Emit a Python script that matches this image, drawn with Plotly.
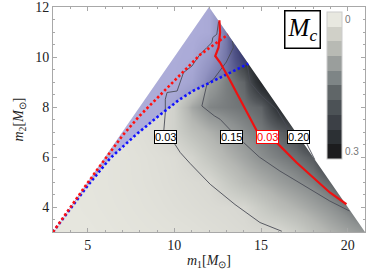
import plotly.graph_objects as go

# ---------------- data ----------------
m1_grid = [3, 4, 5, 6, 7, 8, 9, 10, 11, 12, 13, 14, 15, 16, 17, 18, 19, 20, 21]
m2_grid = [3, 4, 5, 6, 7, 8, 9, 10, 11, 12]
z_rows = [
    [0.0, 0.0, 0.0, 0.002, 0.004, 0.006, 0.008, 0.01, 0.013, 0.017, 0.021, 0.025, 0.028, 0.029, 0.05, 0.08, 0.105, 0.125, 0.14],
    [0.0, 0.0, 0.002, 0.004, 0.006, 0.009, 0.012, 0.016, 0.02, 0.024, 0.027, 0.033, 0.06, 0.085, 0.105, 0.125, 0.145, 0.17, 0.2],
    [0.002, 0.002, 0.003, 0.005, 0.008, 0.011, 0.015, 0.02, 0.025, 0.03, 0.06, 0.09, 0.11, 0.13, 0.148, 0.165, 0.19, 0.23, 0.27],
    [0.004, 0.004, 0.004, 0.005, 0.008, 0.012, 0.017, 0.022, 0.04, 0.07, 0.1, 0.125, 0.15, 0.165, 0.18, 0.2, 0.25, 0.28, 0.3],
    [0.008, 0.008, 0.008, 0.008, 0.01, 0.016, 0.024, 0.045, 0.08, 0.105, 0.13, 0.152, 0.17, 0.19, 0.215, 0.27, 0.3, 0.3, 0.3],
    [0.015, 0.015, 0.015, 0.015, 0.015, 0.02, 0.022, 0.045, 0.12, 0.16, 0.168, 0.177, 0.19, 0.26, 0.3, 0.3, 0.3, 0.3, 0.3],
    [0.02, 0.02, 0.02, 0.02, 0.02, 0.02, 0.022, 0.022, 0.05, 0.13, 0.165, 0.19, 0.28, 0.3, 0.3, 0.3, 0.3, 0.3, 0.3],
    [0.02, 0.02, 0.02, 0.02, 0.02, 0.02, 0.02, 0.02, 0.027, 0.08, 0.155, 0.25, 0.3, 0.3, 0.3, 0.3, 0.3, 0.3, 0.3],
    [0.02, 0.02, 0.02, 0.02, 0.02, 0.02, 0.02, 0.02, 0.02, 0.03, 0.15, 0.3, 0.3, 0.3, 0.3, 0.3, 0.3, 0.3, 0.3],
    [0.02, 0.02, 0.02, 0.02, 0.02, 0.02, 0.02, 0.02, 0.02, 0.03, 0.15, 0.3, 0.3, 0.3, 0.3, 0.3, 0.3, 0.3, 0.3],
]

# domain corners (m2 <= m1, m1 + m2 <= 24)
domain_m1 = [3, 12, 21]
domain_m2 = [3, 12, 3]

# labelled contour lines (thin gray)
c003_up_m1 = [12.55, 12.45, 12.22, 12.17, 11.88, 11.49, 11.21, 11.02, 10.53, 10.34, 10.16, 9.58, 9.48, 9.48, 9.39]
c003_up_m2 = [11.4, 10.91, 10.78, 10.58, 10.38, 10.11, 9.84, 9.64, 9.38, 9.04, 8.64, 8.58, 8.31, 7.78, 7.03]
c003_lo_m1 = [9.96, 10.34, 10.9, 11.49, 12.07, 13.5, 14.94, 16.2]
c003_lo_m2 = [6.59, 6.18, 5.75, 5.31, 4.91, 4.1, 3.38, 3.03]
c015_up_m1 = [13.35, 13.41, 13.0, 12.26, 11.88, 11.78, 11.59, 12.3, 12.64, 13.3]
c015_up_m2 = [10.64, 10.38, 9.8, 9.11, 8.91, 8.58, 8.04, 7.65, 7.51, 7.03]
c015_lo_m1 = [13.98, 14.9, 16.09, 18.97, 20.11]
c015_lo_m2 = [6.59, 6.0, 5.44, 4.24, 3.84]
c020_up_m1 = [14.2, 14.37, 15.03, 15.9, 16.47, 16.52]
c020_up_m2 = [9.75, 8.98, 8.44, 7.91, 7.24, 7.03]
c020_lo_m1 = [17.6, 18.1]
c020_lo_m2 = [6.59, 5.9]

# red solid curve
red_m1 = [12.6, 12.64, 12.55, 12.36, 12.64, 12.93, 13.18, 14.77, 15.9, 17.05, 18.97, 19.93]
red_m2 = [11.47, 10.98, 10.38, 10.04, 9.78, 9.44, 9.11, 7.03, 6.58, 5.78, 4.58, 4.11]

# dotted boundaries
red_dot_m1 = [3, 5, 7, 8, 9, 10, 11, 11.5, 12, 13.1]
red_dot_m2 = [3, 4.97, 6.85, 7.65, 8.35, 9.05, 9.75, 10.1, 10.35, 10.9]
blue_dot_m1 = [3, 4, 5, 6.3, 7.8, 9.2, 10.3, 11.1, 12, 13, 14.27]
blue_dot_m2 = [3, 3.95, 4.85, 5.95, 6.9, 7.7, 8.3, 8.65, 8.95, 9.3, 9.73]

# contour label positions / texts
lab_text = ["0.03", "0.15", "0.03", "0.20"]
lab_m1 = [9.48, 13.3, 15.37, 17.18]
lab_m2 = [6.81, 6.81, 6.81, 6.81]
lab_color = ["black", "black", "red", "black"]

# colorbar bands (top = 0, bottom = 0.3)
cbar_colors = ["#e8e8e0", "#d0d0c8", "#b8bab4", "#9a9e9c", "#7e8586",
               "#606668", "#4c5256", "#3c4046", "#2c3034", "#1c1c1e"]
cbar_ticks = [0, 0.3]
cbar_ticktext = ["0", "0.3"]

x_ticks = [5, 10, 15, 20]
y_ticks = [4, 6, 8, 10, 12]

# ---------------- figure ----------------
fig = go.Figure()

heat_scale = [[0.0, "#e6e6de"], [0.1, "#d8d8d2"], [0.2, "#c8cac4"], [0.333, "#b4b6b2"],
              [0.5, "#8c9090"], [0.667, "#55595d"], [0.833, "#303438"], [1.0, "#1c1c1e"]]
fig.add_trace(go.Heatmap(x=m1_grid, y=m2_grid, z=z_rows, zmin=0, zmax=0.3,
                         colorscale=heat_scale, zsmooth="best", showscale=False,
                         hoverinfo="skip"))

# white masks outside the triangular domain
fig.add_trace(go.Scatter(x=[domain_m1[0], domain_m1[1], 2.5, 2.5], y=[domain_m2[0], domain_m2[1], 12.5, 2.9],
                         fill="toself", fillcolor="white", mode="lines", line=dict(width=0, color="white"),
                         showlegend=False, hoverinfo="skip"))
fig.add_trace(go.Scatter(x=[domain_m1[1], domain_m1[2], 21.5, 21.5, 11.5], y=[domain_m2[1], domain_m2[2], 2.5, 12.5, 12.5],
                         fill="toself", fillcolor="white", mode="lines", line=dict(width=0, color="white"),
                         showlegend=False, hoverinfo="skip"))

# blue translucent region above the blue dotted curve
poly_x = [domain_m1[0], domain_m1[1]] + blue_dot_m1[::-1]
poly_y = [domain_m2[0], domain_m2[1]] + blue_dot_m2[::-1]
fig.add_trace(go.Scatter(x=poly_x, y=poly_y, fill="toself", fillcolor="rgba(70,70,225,0.32)",
                         mode="lines", line=dict(width=0), showlegend=False, hoverinfo="skip"))

for xs, ys in [(c003_up_m1, c003_up_m2), (c003_lo_m1, c003_lo_m2), (c015_up_m1, c015_up_m2),
               (c015_lo_m1, c015_lo_m2), (c020_up_m1, c020_up_m2), (c020_lo_m1, c020_lo_m2)]:
    fig.add_trace(go.Scatter(x=xs, y=ys, mode="lines", line=dict(color="#4a4c56", width=0.9),
                             showlegend=False, hoverinfo="skip"))

fig.add_trace(go.Scatter(x=blue_dot_m1, y=blue_dot_m2, mode="lines",
                         line=dict(color="#1010ff", width=2.6, dash="2.5px,2.5px"),
                         showlegend=False, hoverinfo="skip"))
fig.add_trace(go.Scatter(x=red_dot_m1, y=red_dot_m2, mode="lines",
                         line=dict(color="#ff1010", width=2.6, dash="2.5px,2.5px"),
                         showlegend=False, hoverinfo="skip"))
fig.add_trace(go.Scatter(x=red_m1, y=red_m2, mode="lines",
                         line=dict(color="#ee1111", width=2.2),
                         showlegend=False, hoverinfo="skip"))

# stepped colorbar (values negated so that 0 sits at the top)
n = len(cbar_colors)
half = 0.3 / (n - 1) / 2
bottom_up = cbar_colors[::-1]
step_scale = []
for i, c in enumerate(bottom_up):
    step_scale.append([i / n, c])
    step_scale.append([(i + 1) / n, c])
fig.add_trace(go.Scatter(
    x=[3], y=[3], mode="markers",
    marker=dict(size=1, opacity=0, color=[0], cmin=-0.3 - half, cmax=half,
                colorscale=step_scale, showscale=True,
                colorbar=dict(x=0.878, xanchor="left", y=0.651, yanchor="middle",
                              len=0.653, lenmode="fraction", thickness=15,
                              xpad=0, ypad=0, outlinewidth=1, outlinecolor="#cccccc",
                              tickvals=[-v for v in cbar_ticks], ticktext=cbar_ticktext,
                              ticks="", tickfont=dict(size=10, color="#777777",
                                                      family="Liberation Sans"))),
    showlegend=False, hoverinfo="skip"))

for t, x, y, c in zip(lab_text, lab_m1, lab_m2, lab_color):
    fig.add_annotation(x=x, y=y, text=t, showarrow=False, xanchor="center", yanchor="middle",
                       font=dict(family="Liberation Sans", size=11, color=c),
                       bgcolor="white", bordercolor=c, borderwidth=1, borderpad=0)

fig.add_annotation(xref="paper", yref="paper", x=0.801, y=0.898, xanchor="center", yanchor="middle",
                   text="<i>M<sub>c</sub></i>",
                   showarrow=False, font=dict(family="Liberation Serif", size=25, color="black"),
                   bgcolor="white", bordercolor="black", borderwidth=1.5, width=32, height=34)

axis_common = dict(showline=True, linecolor="#a8a8a8", linewidth=1, mirror="ticks",
                   ticks="inside", ticklen=4, tickcolor="#a8a8a8", showgrid=False, zeroline=False,
                   automargin=False, ticklabeloverflow="allow",
                   tickfont=dict(family="Liberation Serif", size=14, color="#222222"))
fig.update_xaxes(range=[3, 21], tickvals=x_ticks,
                 minor=dict(dtick=1, ticks="inside", ticklen=2, tickcolor="#a8a8a8"),
                 title=dict(text="<i>m</i><sub>1</sub>[<i>M</i><sub>⊙</sub>]", standoff=4,
                            font=dict(family="Liberation Serif", size=14, color="#222222")),
                 **axis_common)
fig.update_yaxes(range=[3, 12], tickvals=y_ticks,
                 minor=dict(dtick=0.5, ticks="inside", ticklen=2, tickcolor="#a8a8a8"),
                 title=dict(text="<i>m</i><sub>2</sub>[<i>M</i><sub>⊙</sub>]", standoff=8,
                            font=dict(family="Liberation Serif", size=14, color="#222222")),
                 **axis_common)

fig.update_layout(width=382, height=270, margin=dict(l=53, r=17, t=7, b=38),
                  paper_bgcolor="white", plot_bgcolor="white", showlegend=False)

fig.write_html("out.html", config={"displayModeBar": False},
               post_script="document.body.style.margin='0px';")
